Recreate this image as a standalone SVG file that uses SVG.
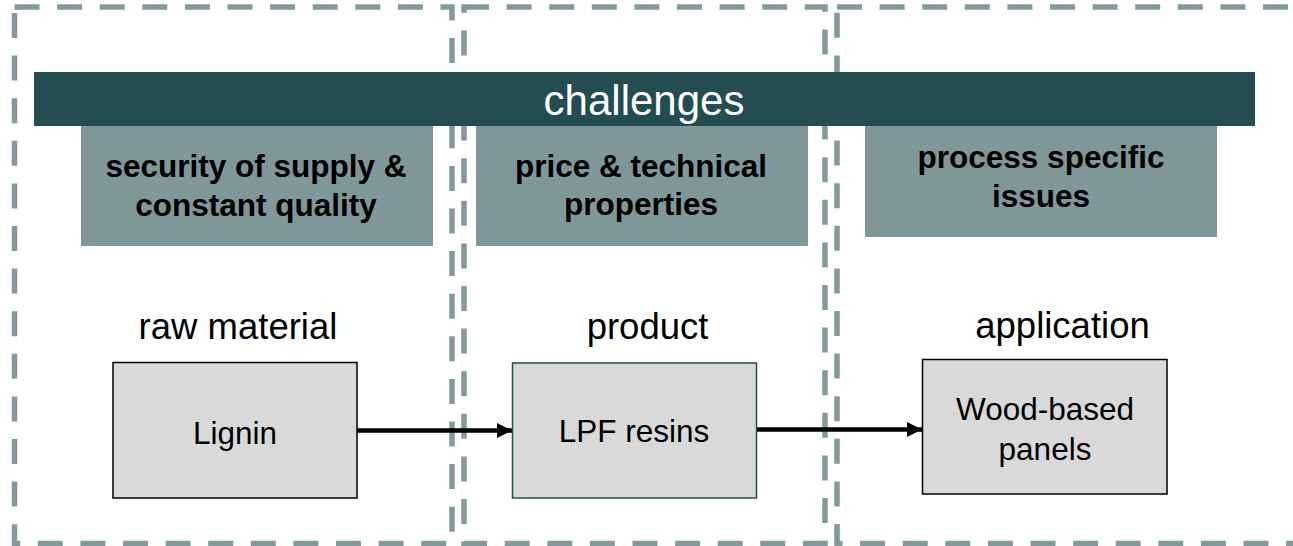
<svg xmlns="http://www.w3.org/2000/svg" width="1293" height="546" viewBox="0 0 1293 546">
  <style>
    .frame { fill: none; stroke: #84999B; stroke-width: 5.5; stroke-dasharray: 25 17.6; }
    .hdr { fill: #7F9799; }
    .hdrtxt { font-family: "Liberation Sans", Arial, sans-serif; font-weight: bold; font-size: 31.5px; fill: #000; text-anchor: middle; }
    .lbl { font-family: "Liberation Sans", Arial, sans-serif; font-size: 36.5px; fill: #000; text-anchor: middle; }
    .node { fill: #D9D9D9; stroke: #000; stroke-width: 1.5; }
    .ntxt { font-family: "Liberation Sans", Arial, sans-serif; font-size: 31.5px; fill: #000; text-anchor: middle; }
    .conn { stroke: #000; stroke-width: 4.5; fill: none; }
  </style>
  <defs>
    <marker id="arrow" markerUnits="userSpaceOnUse" markerWidth="16" markerHeight="16" refX="15" refY="8" orient="auto">
      <path d="M0,0.5 L15,8 L0,15.5 Z" fill="#000"/>
    </marker>
  </defs>
  <rect width="1293" height="546" fill="#fff"/>

  <g id="frames">
    <rect id="frame-raw" class="frame" x="14.5" y="7" width="437.5" height="536.5"/>
    <rect id="frame-product" class="frame" x="464" y="7" width="361" height="536.5"/>
    <rect id="frame-application" class="frame" x="837" y="7" width="480" height="536.5"/>
  </g>

  <g id="challenges">
    <rect x="34" y="72" width="1221" height="54" fill="#234D51"/>
    <text x="644" y="115" font-family="Liberation Sans, Arial, sans-serif" font-size="42px" fill="#fff" text-anchor="middle">challenges</text>
  </g>

  <g id="challenge-supply">
    <rect class="hdr" x="81" y="126" width="352" height="120"/>
    <text class="hdrtxt" x="256" y="177">security of supply &amp;</text>
    <text class="hdrtxt" x="256" y="216">constant quality</text>
  </g>
  <g id="challenge-price">
    <rect class="hdr" x="476" y="126" width="332" height="120"/>
    <text class="hdrtxt" x="641" y="177">price &amp; technical</text>
    <text class="hdrtxt" x="641" y="215">properties</text>
  </g>
  <g id="challenge-process">
    <rect class="hdr" x="865" y="126" width="352" height="111"/>
    <text class="hdrtxt" x="1041" y="168">process specific</text>
    <text class="hdrtxt" x="1041" y="207">issues</text>
  </g>

  <g id="label-raw"><text class="lbl" x="238" y="339">raw material</text></g>
  <g id="label-product"><text class="lbl" x="647.5" y="338.5">product</text></g>
  <g id="label-application"><text class="lbl" x="1062.5" y="338">application</text></g>

  <g id="connectors">
    <line class="conn" x1="357" y1="430.5" x2="512" y2="430.5" marker-end="url(#arrow)"/>
    <line class="conn" x1="756" y1="429.5" x2="922" y2="429.5" marker-end="url(#arrow)"/>
  </g>

  <g id="node-lignin">
    <rect class="node" x="113" y="362.5" width="244" height="135.5"/>
    <text class="ntxt" x="235" y="443.5">Lignin</text>
  </g>
  <g id="node-lpf">
    <rect class="node" x="512.5" y="363" width="244" height="135" style="stroke:#234D51"/>
    <text class="ntxt" x="634" y="442">LPF resins</text>
  </g>
  <g id="node-wood">
    <rect class="node" x="922.5" y="359.5" width="244.5" height="134.5"/>
    <text class="ntxt" x="1045" y="420">Wood-based</text>
    <text class="ntxt" x="1045" y="459.5">panels</text>
  </g>
</svg>
